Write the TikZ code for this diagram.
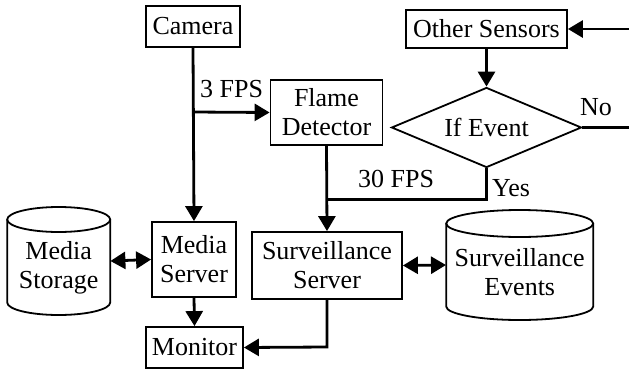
\documentclass[tikz,border=0pt]{standalone}
\usepackage{fontspec}
\setmainfont{Liberation Serif}
\usetikzlibrary{shapes.geometric,arrows.meta}
\begin{document}
\begin{tikzpicture}[x=1pt,y=-1pt,
  every node/.style={font=\fontsize{26}{29}\selectfont},
  box/.style={draw,line width=1.8pt,inner sep=0pt,align=center},
  plain/.style={inner sep=0pt,align=center},
  tip/.tip={Triangle[length=15pt,width=17pt]},
  conn/.style={line width=2.8pt,-tip},
  line/.style={line width=2.8pt},
  dconn/.style={line width=2.8pt,tip-tip},
  cyl/.style={line width=1.8pt}]
\useasboundingbox (0,0) rectangle (629,370);
% boxes
\node[box,minimum width=94pt,minimum height=41pt] (cam) at (193,26.5) {Camera};
\node[box,minimum width=112pt,minimum height=65pt] (fd) at (326.5,112.5) {Flame\\Detector};
\node[box,minimum width=161pt,minimum height=38pt] (os) at (486.5,29) {Other Sensors};
\node[draw,line width=1.8pt,shape=diamond,inner sep=0pt,aspect=2.375,minimum width=190pt,minimum height=80pt] (ev) at (486.5,127.5) {If Event};
\node[box,minimum width=84pt,minimum height=75pt] (msv) at (194,259.5) {Media\\Server};
\node[box,minimum width=150pt,minimum height=67pt] (ss) at (327,265.5) {Surveillance\\Server};
\node[box,minimum width=97pt,minimum height=41pt] (mon) at (194.5,347.5) {Monitor};
% cylinders
\node[plain,minimum width=103pt,minimum height=108pt] (mst) at (58.7,261) {};
\draw[cyl] (7.2,219.5) -- (7.2,302.5) arc[start angle=180,end angle=360,x radius=51.5pt,y radius=12.5pt] -- (110.2,219.5);
\draw[cyl] (58.7,219.5) ellipse[x radius=51.5pt,y radius=12.5pt];
\node[plain] (mstt) at (58.7,268) {Media\\Storage};
\node[plain,minimum width=147pt,minimum height=110pt] (se) at (519.7,265) {};
\draw[cyl] (446.2,223.5) -- (446.2,306.5) arc[start angle=180,end angle=360,x radius=73.5pt,y radius=13.5pt] -- (593.2,223.5);
\draw[cyl] (519.7,223.5) ellipse[x radius=73.5pt,y radius=13.5pt];
\node[plain] (set) at (519.7,272) {Surveillance\\Events};
% connector coordinates
\coordinate (j1) at (193,112);
\coordinate (j2) at (326.7,199.3);
\coordinate (inR) at (629,29);
\coordinate (noR) at (629,127.5);
\coordinate (k1) at (486.5,199.3);
\coordinate (k2) at (327,347);
% connectors
\draw[conn] (cam.south) -- (msv.north);
\draw[conn] (j1) -- (fd.west);
\draw[conn] (fd.south) -- (ss.north);
\draw[conn] (inR) -- (os.east);
\draw[conn] (os.south) -- (ev.north);
\draw[line] (ev.east) -- (noR);
\draw[line] (ev.south) -- (k1) -- (j2);
\draw[conn] (msv.south) -- (mon.north);
\draw[conn] (ss.south) -- (k2) -- (mon.east);
\draw[dconn] (mst.east) -- (msv.west);
\draw[dconn] (ss.east) -- (se.west);
% labels
\node[plain,anchor=base west] (l3) at (200,97) {3 FPS};
\node[plain,anchor=base west] (l30) at (358,187.5) {30 FPS};
\node[plain,anchor=base west] (lyes) at (492,196) {Yes};
\node[plain,anchor=base west] (lno) at (580,115) {No};
\end{tikzpicture}
\end{document}
